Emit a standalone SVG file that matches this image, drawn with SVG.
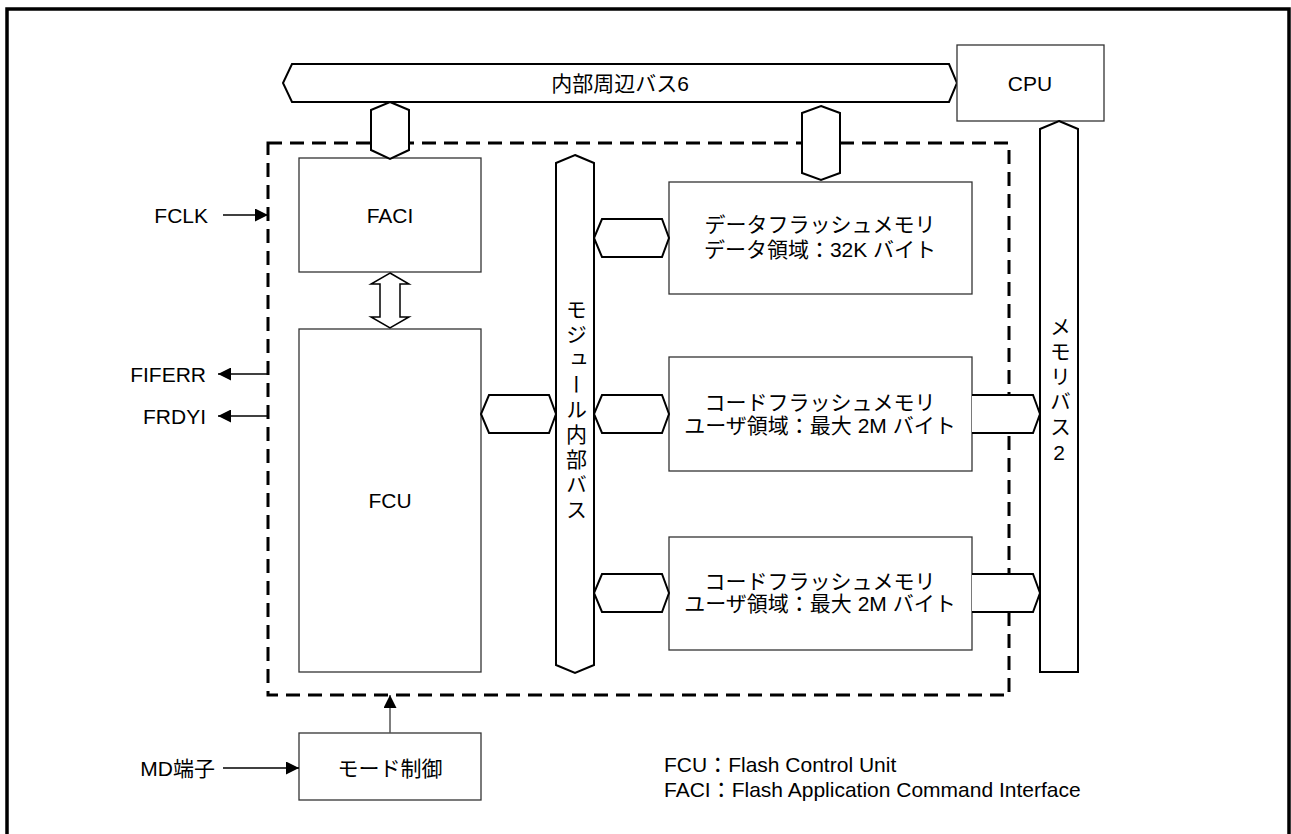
<svg xmlns="http://www.w3.org/2000/svg" width="1291" height="834" viewBox="0 0 1291 834">
<style>
.t{font-family:"Liberation Sans","Noto Sans CJK JP",sans-serif;font-size:21px;fill:#000}
.box{fill:#fff;stroke:#333;stroke-width:1.3}
.bus{fill:#fff;stroke:#000;stroke-width:2;stroke-linejoin:miter}
.ln{fill:none;stroke:#000;stroke-width:1.3}
.vt{writing-mode:vertical-rl;text-orientation:upright;letter-spacing:4px}
</style>
<defs>
<marker id="ah" viewBox="0 0 10 10" refX="10" refY="5" markerWidth="14" markerHeight="13" markerUnits="userSpaceOnUse" orient="auto">
<path d="M0,0 L10,5 L0,10 Z" fill="#000"/>
</marker>
</defs>
<rect width="1291" height="834" fill="#fff"/>
<path d="M7,834 V9 H1289 V834" fill="none" stroke="#000" stroke-width="3.5"/>

<g id="bus6">
<path class="bus" d="M292,64 H949 L957,83 L949,102 H292 L283,83 Z"/>
<text class="t" x="620" y="83" text-anchor="middle" dominant-baseline="central">内部周辺バス6</text>
</g>
<g id="cpu">
<rect class="box" x="957" y="45" width="147" height="76"/>
<text class="t" x="1030" y="83" text-anchor="middle" dominant-baseline="central">CPU</text>
</g>

<g id="flash-module">
<rect x="268" y="143" width="741" height="552" fill="none" stroke="#000" stroke-width="3" stroke-dasharray="14 8"/>
</g>

<g id="faci">
<rect class="box" x="299" y="158" width="182" height="114"/>
<text class="t" x="390" y="215" text-anchor="middle" dominant-baseline="central">FACI</text>
</g>
<g id="fcu">
<rect class="box" x="299" y="329" width="182" height="343"/>
<text class="t" x="390" y="500" text-anchor="middle" dominant-baseline="central">FCU</text>
</g>
<g id="module-bus">
<path class="bus" d="M575,155 L594,163 V665 L575,673 L556,665 V163 Z"/>
<text class="t vt" x="575" y="411" text-anchor="middle">モジュール内部バス</text>
</g>
<g id="data-flash">
<rect class="box" x="669" y="182" width="303" height="112"/>
<text class="t" x="820" y="224" text-anchor="middle" dominant-baseline="central">データフラッシュメモリ</text>
<text class="t" x="820" y="249" text-anchor="middle" dominant-baseline="central">データ領域：32K バイト</text>
</g>
<g id="code-flash-1">
<rect class="box" x="669" y="357" width="303" height="114"/>
<text class="t" x="820" y="402" text-anchor="middle" dominant-baseline="central">コードフラッシュメモリ</text>
<text class="t" x="820" y="425" text-anchor="middle" dominant-baseline="central">ユーザ領域：最大 2M バイト</text>
</g>
<g id="code-flash-2">
<rect class="box" x="669" y="537" width="303" height="113"/>
<text class="t" x="820" y="581" text-anchor="middle" dominant-baseline="central">コードフラッシュメモリ</text>
<text class="t" x="820" y="603" text-anchor="middle" dominant-baseline="central">ユーザ領域：最大 2M バイト</text>
</g>
<g id="memory-bus2">
<path class="bus" d="M1059,121 L1078,129 V672 H1040 V129 Z"/>
<text class="t vt" x="1059" y="392" text-anchor="middle">メモリバス2</text>
</g>
<g id="mode-ctrl">
<rect class="box" x="299" y="733" width="182" height="67"/>
<text class="t" x="390" y="768" text-anchor="middle" dominant-baseline="central">モード制御</text>
</g>

<g id="connectors">
<path class="bus" d="M390,102 L409,110 V150 L390,159 L371,150 V110 Z"/>
<path class="bus" d="M821,106 L840,113 V173 L821,180 L802,173 V113 Z"/>
<path class="bus" d="M602,219 H662 L669,238 L662,257 H602 L594,238 Z"/>
<path class="bus" d="M489,395 H549 L556,414 L549,433 H489 L481,414 Z"/>
<path class="bus" d="M602,395 H662 L669,414 L662,433 H602 L594,414 Z"/>
<path class="bus" d="M602,574 H662 L669,593 L662,612 H602 L594,593 Z"/>
<path class="bus" d="M972,395 H1033 L1040,414 L1033,433 H972"/>
<path class="bus" d="M972,574 H1033 L1040,593 L1033,612 H972"/>
<path d="M390,273 L409,284 H400 V317 H409 L390,328 L371,317 H380 V284 H371 Z" fill="#fff" stroke="#000" stroke-width="1.5"/>
<line class="ln" x1="223" y1="215" x2="268" y2="215" marker-end="url(#ah)"/>
<line class="ln" x1="268" y1="374" x2="218" y2="374" marker-end="url(#ah)"/>
<line class="ln" x1="268" y1="416" x2="218" y2="416" marker-end="url(#ah)"/>
<line class="ln" x1="223" y1="768" x2="299" y2="768" marker-end="url(#ah)"/>
<line x1="390" y1="733" x2="390" y2="695" stroke="#555" stroke-width="1.5" marker-end="url(#ah)"/>
</g>

<g id="labels">
<text class="t" x="208" y="215" text-anchor="end" dominant-baseline="central">FCLK</text>
<text class="t" x="206" y="374" text-anchor="end" dominant-baseline="central">FIFERR</text>
<text class="t" x="206" y="416" text-anchor="end" dominant-baseline="central">FRDYI</text>
<text class="t" x="215" y="768" text-anchor="end" dominant-baseline="central">MD端子</text>
<text class="t" x="664" y="772">FCU：Flash Control Unit</text>
<text class="t" x="664" y="797">FACI：Flash Application Command Interface</text>
</g>
</svg>
